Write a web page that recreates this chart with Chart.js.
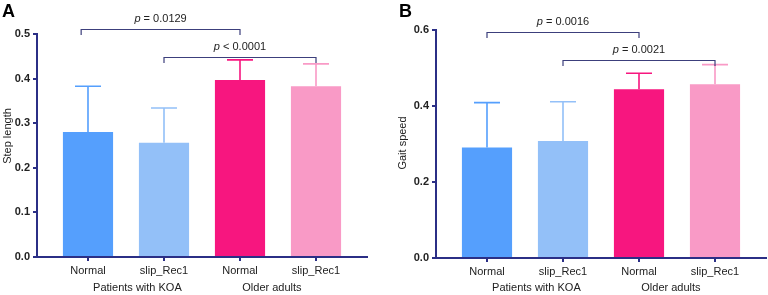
<!DOCTYPE html>
<html><head><meta charset="utf-8">
<script src="https://cdn.jsdelivr.net/npm/chart.js@4/dist/chart.umd.min.js"></script>
<style>
html,body{margin:0;padding:0;background:#fff;overflow:hidden}
.p{position:absolute;top:0;width:384px;height:295px}
</style></head><body>
<div class="p" style="left:0"><canvas id="a" width="384" height="295"></canvas></div>
<div class="p" style="left:384px"><canvas id="b" width="384" height="295"></canvas></div>
<script>
const categories = ['Normal', 'slip_Rec1', 'Normal', 'slip_Rec1'];
const groups = ['Patients with KOA', 'Older adults'];
const stepLengthMean = [0.280, 0.256, 0.397, 0.383];
const stepLengthUpper = [0.383, 0.334, 0.442, 0.433];
const gaitSpeedMean = [0.291, 0.308, 0.444, 0.457];
const gaitSpeedUpper = [0.409, 0.411, 0.486, 0.509];
const stepLengthTicks = [0, 0.1, 0.2, 0.3, 0.4, 0.5];
const gaitSpeedTicks = [0, 0.2, 0.4, 0.6];
const stepLengthP = ['0.0129', '< 0.0001'];
const gaitSpeedP = ['0.0016', '0.0021'];
const stepLengthPSign = ['=', ''];
const gaitSpeedPSign = ['=', '='];
const stepLengthBracketLevels = [0.511, 0.448];
const gaitSpeedBracketLevels = [0.594, 0.521];

const colors = ['#559ffd', '#93c0f8', '#f7167f', '#f99ac6'];
const NAVY = '#2b2f86';
const BRACKET = '#3c3f7c';
const TXT = '#222';
const FONT = '"Liberation Sans", Arial, Helvetica, sans-serif';

function makeChart(id, cfg) {
  const deco = {
    id: 'deco',
    afterDatasetsDraw(chart) {
      const ctx = chart.ctx;
      const xs = chart.scales.x, ys = chart.scales.y;
      const meta = chart.getDatasetMeta(0);
      ctx.save();
      // error bars (upper only)
      meta.data.forEach((bar, i) => {
        const x = bar.x;
        const y0 = ys.getPixelForValue(cfg.mean[i]);
        const y1 = ys.getPixelForValue(cfg.upper[i]);
        ctx.strokeStyle = colors[i];
        ctx.lineWidth = 1.6;
        ctx.beginPath();
        ctx.moveTo(x, y0); ctx.lineTo(x, y1);
        ctx.moveTo(x - 13, y1); ctx.lineTo(x + 13, y1);
        ctx.stroke();
      });
      // brackets
      cfg.brackets.forEach((br, k) => {
        const xa = xs.getPixelForValue(br[0]);
        const xb = xs.getPixelForValue(br[1]);
        const y = Math.round(ys.getPixelForValue(cfg.levels[k])) + 0.5;
        ctx.strokeStyle = BRACKET;
        ctx.lineWidth = 1.2;
        ctx.beginPath();
        ctx.moveTo(xa, y + 5.5); ctx.lineTo(xa, y); ctx.lineTo(xb, y); ctx.lineTo(xb, y + 5.5);
        ctx.stroke();
        // p text
        const p = 'p';
        const rest = ' ' + (cfg.signs[k] ? cfg.signs[k] + ' ' : '') + cfg.pvals[k];
        ctx.font = 'italic 11px ' + FONT;
        const w1 = ctx.measureText(p).width;
        ctx.font = '11px ' + FONT;
        const w2 = ctx.measureText(rest).width;
        const cx = (xa + xb) / 2;
        const sx = cx - (w1 + w2) / 2;
        const ty = y - 11;
        ctx.fillStyle = TXT;
        ctx.textBaseline = 'middle';
        ctx.textAlign = 'left';
        ctx.font = 'italic 11px ' + FONT;
        ctx.fillText(p, sx, ty);
        ctx.font = '11px ' + FONT;
        ctx.fillText(rest, sx + w1, ty);
      });
      // group labels
      ctx.fillStyle = TXT;
      ctx.font = '11px ' + FONT;
      ctx.textAlign = 'center';
      ctx.textBaseline = 'middle';
      [0.65, 2.42].forEach((v, g) => {
        ctx.fillText(groups[g], xs.getPixelForValue(v), 288);
      });
      // y title
      ctx.save();
      ctx.translate(cfg.titleX, cfg.titleY);
      ctx.rotate(-Math.PI / 2);
      ctx.fillText(cfg.title, 0, 0);
      ctx.restore();
      // panel letter
      ctx.font = 'bold 18px ' + FONT;
      ctx.textAlign = 'left';
      ctx.textBaseline = 'alphabetic';
      ctx.fillStyle = '#000';
      ctx.fillText(cfg.letter, cfg.letterX, 17);
      ctx.restore();
    }
  };

  return new Chart(document.getElementById(id), {
    type: 'bar',
    data: {
      datasets: [{
        data: cfg.mean.map((v, i) => ({ x: i, y: v })),
        backgroundColor: colors,
        borderWidth: 0,
        barPercentage: 0.66,
        categoryPercentage: 1.0
      }]
    },
    options: {
      responsive: false,
      animation: false,
      devicePixelRatio: 1,
      layout: { padding: { top: cfg.padTop, right: cfg.padRight, bottom: 0, left: 0 } },
      plugins: { legend: { display: false }, tooltip: { enabled: false } },
      scales: {
        x: {
          type: 'linear',
          offset: false,
          min: -0.671,
          max: 3.671,
          afterBuildTicks: (axis) => { axis.ticks = categories.map((_, i) => ({ value: i })); },
          afterFit: (s) => { s.height = cfg.xHeight; },
          ticks: {
            callback: (v) => categories[v],
            font: { family: FONT, size: 11 },
            color: TXT,
            padding: 3,
            maxRotation: 0,
            autoSkip: false
          },
          grid: { display: true, drawOnChartArea: false, drawTicks: true, tickLength: 4, color: NAVY, lineWidth: 2, offset: false },
          border: { display: true, color: NAVY, width: 2 }
        },
        y: {
          min: 0,
          max: cfg.yTicks[cfg.yTicks.length - 1],
          afterBuildTicks: (axis) => { axis.ticks = cfg.yTicks.map(v => ({ value: v })); },
          afterFit: (s) => { s.width = cfg.yWidth; },
          ticks: {
            callback: (v) => v.toFixed(1),
            font: { family: FONT, size: 11, weight: 'bold' },
            color: TXT,
            padding: 3
          },
          grid: { display: true, drawOnChartArea: false, drawTicks: true, tickLength: 4, color: NAVY, lineWidth: 2 },
          border: { display: true, color: NAVY, width: 2 }
        }
      }
    },
    plugins: [deco]
  });
}

makeChart('a', {
  mean: stepLengthMean, upper: stepLengthUpper, yTicks: stepLengthTicks,
  pvals: stepLengthP, signs: stepLengthPSign, levels: stepLengthBracketLevels,
  brackets: [[-0.09, 2], [1, 3]],
  padTop: 34, padRight: 17, xHeight: 38, yWidth: 37,
  title: 'Step length', titleX: 8, titleY: 136, letter: 'A', letterX: 2
});
makeChart('b', {
  mean: gaitSpeedMean, upper: gaitSpeedUpper, yTicks: gaitSpeedTicks,
  pvals: gaitSpeedP, signs: gaitSpeedPSign, levels: gaitSpeedBracketLevels,
  brackets: [[0, 2], [1, 3]],
  padTop: 30, padRight: 2, xHeight: 37, yWidth: 52,
  title: 'Gait speed', titleX: 19, titleY: 143, letter: 'B', letterX: 15
});
</script>
</body></html>
